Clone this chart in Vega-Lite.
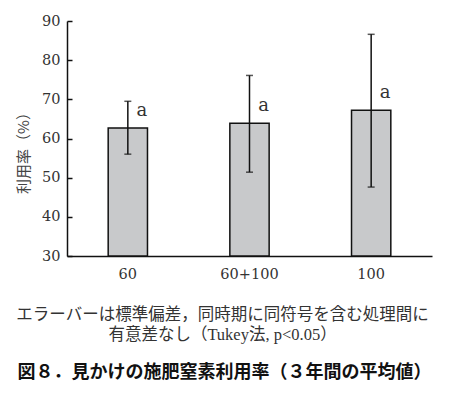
{
  "$schema": "https://vega.github.io/schema/vega-lite/v6.json",
  "autosize": "none",
  "width": 365,
  "height": 235,
  "padding": {"left": 67, "top": 21, "right": 28, "bottom": 139},
  "background": "white",
  "config": {"view": {"stroke": null}, "font": "DejaVu Serif"},
  "title": {
    "text": "図８．見かけの施肥窒素利用率（３年間の平均値）",
    "orient": "bottom",
    "anchor": "middle",
    "frame": "group",
    "dx": -25,
    "offset": 21,
    "font": "Noto Sans CJK JP",
    "fontSize": 18,
    "fontWeight": "bold",
    "color": "#111"
  },
  "data": {
    "values": [
      {"treatment": "60", "mean": 62.65, "lo": 56.0, "hi": 69.5, "group": "a"},
      {"treatment": "60+100", "mean": 63.9, "lo": 51.4, "hi": 76.1, "group": "a"},
      {"treatment": "100", "mean": 67.2, "lo": 47.6, "hi": 86.6, "group": "a"}
    ]
  },
  "encoding": {
    "x": {
      "field": "treatment",
      "type": "nominal",
      "sort": ["60", "60+100", "100"],
      "scale": {"paddingInner": 0, "paddingOuter": 0},
      "axis": {
        "labelAngle": 0,
        "ticks": false,
        "domainColor": "#111",
        "domainWidth": 1.5,
        "labelFont": "DejaVu Serif",
        "labelFontSize": 14.5,
        "labelColor": "#333",
        "labelPadding": 11,
        "title": ["エラーバーは標準偏差，同時期に同符号を含む処理間に", "有意差なし（Tukey法, p<0.05）"],
        "titleFont": "Liberation Serif, Noto Sans CJK JP",
        "titleFontSize": 16.5,
        "titleFontWeight": "normal",
        "titleColor": "#333",
        "titleLineHeight": 20,
        "titleBaseline": "top",
        "titleX": 155,
        "titleY": 50,
        "titleAlign": "center",
        "titleAnchor": null
      }
    }
  },
  "layer": [
    {
      "mark": {"type": "bar", "width": {"band": 0.323}, "fill": "#c8c9cb", "stroke": "#111", "strokeWidth": 1.5},
      "encoding": {
        "y": {
          "field": "mean",
          "type": "quantitative",
          "scale": {"domain": [30, 90], "nice": false, "zero": false},
          "axis": {"values": [30, 40, 50, 60, 70, 80, 90], "title": "利用率（%）", "labelOverlap": false, "grid": false, "tickSize": -5, "tickColor": "#111", "tickWidth": 1.5, "domainColor": "#111", "domainWidth": 1.5, "labelFont": "DejaVu Serif", "labelFontSize": 14.5, "labelColor": "#333", "labelPadding": 12, "titleFont": "Noto Sans CJK JP", "titleFontSize": 15, "titleFontWeight": "normal", "titleColor": "#444", "titleX": -44, "titleY": 128, "titleAngle": -90, "titleBaseline": "middle", "titleAlign": "center", "titleAnchor": null}
        },
        "y2": {"datum": 30}
      }
    },
    {
      "mark": {"type": "rule", "color": "#111", "strokeWidth": 1.5},
      "encoding": {
        "y": {"field": "lo", "type": "quantitative", "axis": {"values": [30, 40, 50, 60, 70, 80, 90], "title": "利用率（%）", "labelOverlap": false, "grid": false, "tickSize": -5, "tickColor": "#111", "tickWidth": 1.5, "domainColor": "#111", "domainWidth": 1.5, "labelFont": "DejaVu Serif", "labelFontSize": 14.5, "labelColor": "#333", "labelPadding": 12, "titleFont": "Noto Sans CJK JP", "titleFontSize": 15, "titleFontWeight": "normal", "titleColor": "#444", "titleX": -44, "titleY": 128, "titleAngle": -90, "titleBaseline": "middle", "titleAlign": "center", "titleAnchor": null}},
        "y2": {"field": "hi"}
      }
    },
    {
      "mark": {"type": "tick", "color": "#111", "thickness": 1.5, "size": 7},
      "encoding": {"y": {"field": "lo", "type": "quantitative", "axis": {"values": [30, 40, 50, 60, 70, 80, 90], "title": "利用率（%）", "labelOverlap": false, "grid": false, "tickSize": -5, "tickColor": "#111", "tickWidth": 1.5, "domainColor": "#111", "domainWidth": 1.5, "labelFont": "DejaVu Serif", "labelFontSize": 14.5, "labelColor": "#333", "labelPadding": 12, "titleFont": "Noto Sans CJK JP", "titleFontSize": 15, "titleFontWeight": "normal", "titleColor": "#444", "titleX": -44, "titleY": 128, "titleAngle": -90, "titleBaseline": "middle", "titleAlign": "center", "titleAnchor": null}}}
    },
    {
      "mark": {"type": "tick", "color": "#111", "thickness": 1.5, "size": 7},
      "encoding": {"y": {"field": "hi", "type": "quantitative", "axis": {"values": [30, 40, 50, 60, 70, 80, 90], "title": "利用率（%）", "labelOverlap": false, "grid": false, "tickSize": -5, "tickColor": "#111", "tickWidth": 1.5, "domainColor": "#111", "domainWidth": 1.5, "labelFont": "DejaVu Serif", "labelFontSize": 14.5, "labelColor": "#333", "labelPadding": 12, "titleFont": "Noto Sans CJK JP", "titleFontSize": 15, "titleFontWeight": "normal", "titleColor": "#444", "titleX": -44, "titleY": 128, "titleAngle": -90, "titleBaseline": "middle", "titleAlign": "center", "titleAnchor": null}}}
    },
    {
      "mark": {"type": "text", "font": "DejaVu Serif", "fontSize": 18, "color": "#333", "dx": 14, "dy": -17, "baseline": "middle"},
      "encoding": {
        "y": {"field": "mean", "type": "quantitative", "axis": {"values": [30, 40, 50, 60, 70, 80, 90], "title": "利用率（%）", "labelOverlap": false, "grid": false, "tickSize": -5, "tickColor": "#111", "tickWidth": 1.5, "domainColor": "#111", "domainWidth": 1.5, "labelFont": "DejaVu Serif", "labelFontSize": 14.5, "labelColor": "#333", "labelPadding": 12, "titleFont": "Noto Sans CJK JP", "titleFontSize": 15, "titleFontWeight": "normal", "titleColor": "#444", "titleX": -44, "titleY": 128, "titleAngle": -90, "titleBaseline": "middle", "titleAlign": "center", "titleAnchor": null}},
        "text": {"field": "group"}
      }
    }
  ]
}
